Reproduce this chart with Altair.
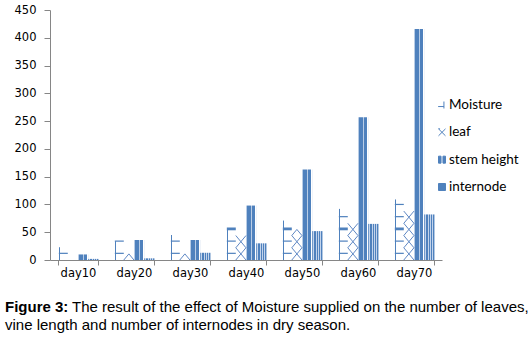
import altair as alt
import pandas as pd

days = ["day10", "day20", "day30", "day40", "day50", "day60", "day70"]
series_names = ["Moisture", "leaf", "stem height", "internode"]
moisture = [23, 34, 45, 57, 71, 92, 109]
leaf = [1, 9, 14, 39, 55, 66, 84]
stem = [10, 36, 36, 98, 163, 257, 416]
internode = [2, 3, 13, 30, 52, 65, 82]
y_ticks = [0, 50, 100, 150, 200, 250, 300, 350, 400, 450]
caption_bold = "Figure 3:"
caption_rest = "The result of the effect of Moisture supplied on the number of leaves,"
caption_line2 = "vine length and number of internodes in dry season."

BLUE = "#4f81bd"
LIGHT = "#b9cde6"
DOT = "#c3d4ec"
GRAY = "#868686"

rows = []
for s, vals in zip(series_names, [moisture, leaf, stem, internode]):
    for d, v in zip(days, vals):
        rows.append({"day": d, "series": s, "value": v})
df = pd.DataFrame(rows)

# pattern decorations derived from the bar values (Excel-like hatch fills)
dash_rows = []
for d, v in zip(days, moisture):
    k = 0
    while 12 + 22 * k <= v:
        dash_rows.append({"day": d, "series": "Moisture", "value": 12 + 22 * k,
                          "kind": "thick" if k % 4 == 2 else "thin"})
        k += 1
dash_df = pd.DataFrame(dash_rows)

x_rows = []
for d, v in zip(days, leaf):
    k = 0
    while True:
        c = 11 + 22 * k
        if v >= c + 6:
            kind = "full"
        elif v >= c - 6:
            kind = "half"
        else:
            break
        x_rows.append({"day": d, "series": "leaf", "value": c, "kind": kind})
        k += 1
        if kind == "half":
            break
x_df = pd.DataFrame(x_rows)

x_enc = alt.X("day:N", sort=days, title=None,
              scale=alt.Scale(domain=days, paddingInner=0.27, paddingOuter=0.135),
              axis=alt.Axis(tickBand="extent", labelAngle=0, domainColor=GRAY, tickColor=GRAY,
                            tickSize=5, labelFont="DejaVu Sans", labelFontSize=11.5,
                            labelColor="black", labelPadding=2, grid=False))
xo_enc = alt.XOffset("series:N", sort=series_names,
                     scale=alt.Scale(domain=series_names, paddingInner=0, paddingOuter=0))
y_enc = alt.Y("value:Q", title=None, scale=alt.Scale(domain=[0, 450], nice=False),
              axis=alt.Axis(values=y_ticks, domainColor=GRAY, tickColor=GRAY, tickSize=6,
                            labelFont="DejaVu Sans", labelFontSize=11.5, labelColor="black",
                            labelPadding=8, grid=False))


def grad(stops):
    return alt.Gradient(gradient="linear", x1=0, x2=1, y1=0, y2=0,
                        stops=[alt.GradientStop(offset=o, color=c) for o, c in stops])


def stripes(colors, widths):
    stops = []
    pos = 0.0
    for c, w in zip(colors, widths):
        stops.append((pos, c))
        pos += w
        stops.append((min(pos, 1.0), c))
    return grad(stops)


fills = {
    "Moisture": stripes(["white", BLUE, "white"], [0.12, 0.11, 0.77]),
    "leaf": stripes(["white"], [1.0]),
    "stem height": stripes([LIGHT, "white", BLUE, LIGHT, BLUE, "white", LIGHT],
                           [0.08, 0.04, 0.36, 0.1, 0.32, 0.04, 0.06]),
    "internode": stripes([BLUE, DOT, BLUE, DOT, BLUE, DOT, BLUE, DOT, BLUE],
                         [0.12, 0.1, 0.12, 0.1, 0.12, 0.1, 0.12, 0.1, 0.12]),
}

base = alt.Chart(df)
bar_layers = []
for s in series_names:
    bar_layers.append(
        base.transform_filter(alt.datum.series == s)
        .mark_bar(fill=fills[s], strokeWidth=0)
        .encode(x=x_enc, xOffset=xo_enc, y=y_enc)
    )

dashes = alt.Chart(dash_df).mark_point(filled=False, color=BLUE, size=105, opacity=1,
                                       strokeCap="butt").encode(
    x=x_enc, xOffset=xo_enc, y=y_enc,
    shape=alt.Shape("kind:N", scale=alt.Scale(domain=["thin", "thick"],
                                              range=["M-0.75,0H1", "M-0.75,0H1"]), legend=None),
    strokeWidth=alt.StrokeWidth("kind:N", scale=alt.Scale(domain=["thin", "thick"], range=[1.2, 2.8]),
                                legend=None),
)

crosses = alt.Chart(x_df).mark_point(filled=False, color="#5f88c4", size=105, opacity=1,
                                     strokeWidth=1).encode(
    x=x_enc, xOffset=xo_enc, y=y_enc,
    shape=alt.Shape("kind:N", scale=alt.Scale(domain=["full", "half"],
                                              range=["M-1,-1.2L1,1.2M1,-1.2L-1,1.2",
                                                     "M-1,1.2L0,0L1,1.2"]), legend=None),
)

plot = alt.layer(*bar_layers, dashes, crosses).resolve_scale(shape="independent")

leg_df = pd.DataFrame({"series": series_names})
leg_y = alt.Y("series:N", sort=series_names, axis=None,
              scale=alt.Scale(domain=series_names, range=[95, 177], padding=0))
leg_text = alt.Chart(leg_df).mark_text(align="left", baseline="middle", font="Lato",
                                       fontSize=13.5, color="black").encode(
    x=alt.value(399), y=leg_y, text="series:N")
leg_sym = alt.Chart(leg_df).mark_point(filled=True, color=BLUE, stroke=BLUE, strokeWidth=1,
                                       size=60, opacity=1).encode(
    x=alt.value(392), y=leg_y,
    shape=alt.Shape("series:N", scale=alt.Scale(
        domain=series_names,
        range=["M-1,0.4H0.5M0.5,-0.9V0.9",
               "M-0.9,-0.9L0.9,0.9M0.9,-0.9L-0.9,0.9M-0.9,-0.9L-0.5,-0.9",
               "M-0.9,-0.9H-0.25V0.9H-0.9ZM0.25,-0.9H0.9V0.9H0.25Z",
               "M-0.9,-0.9H0.9V0.9H-0.9Z"]), legend=None),
)

CAP_SIZE = 15
cap1 = alt.Chart(pd.DataFrame({"t": [caption_bold]})).mark_text(
    align="left", baseline="alphabetic", font="Liberation Sans", fontSize=CAP_SIZE,
    fontWeight="bold", color="black").encode(text="t:N", x=alt.value(-45), y=alt.value(302))
cap2 = alt.Chart(pd.DataFrame({"t": [caption_rest]})).mark_text(
    align="left", baseline="alphabetic", font="Liberation Sans", fontSize=CAP_SIZE,
    color="black").encode(text="t:N", x=alt.value(22), y=alt.value(302))
cap3 = alt.Chart(pd.DataFrame({"t": [caption_line2]})).mark_text(
    align="left", baseline="alphabetic", font="Liberation Sans", fontSize=CAP_SIZE,
    color="black").encode(text="t:N", x=alt.value(-45), y=alt.value(320))

chart = alt.layer(plot, leg_text, leg_sym, cap1, cap2, cap3).resolve_scale(
    y="independent", shape="independent"
).properties(
    width=392, height=250,
    autosize=alt.AutoSizeParams(type="none"),
    padding={"left": 50, "top": 10, "right": 90, "bottom": 78},
    background="white",
).configure_view(stroke=None)

chart.save("out.html", embed_options={"renderer": "svg", "actions": False})
